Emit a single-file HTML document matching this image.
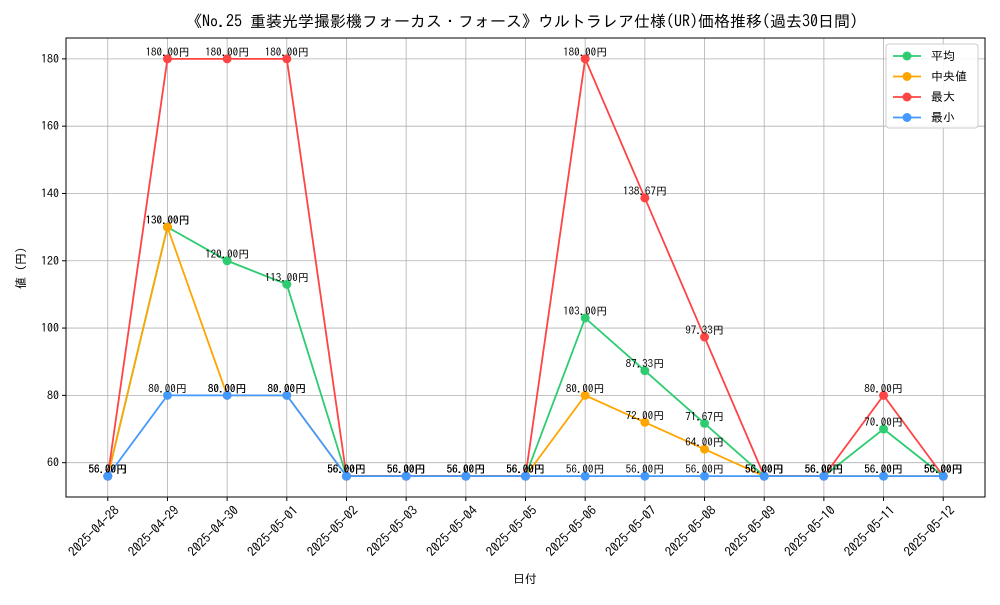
<!DOCTYPE html>
<html><head><meta charset="utf-8"><style>
body{margin:0;background:#fff;}
svg{font-family:"IPAGothic","Noto Sans CJK JP",sans-serif;}
</style></head><body>
<svg id="chart" width="1000" height="600" xmlns="http://www.w3.org/2000/svg">
<rect width="1000" height="600" fill="#fff"/>
<text x="522" y="27" font-size="16" text-anchor="middle">《No.25 重装光学撮影機フォーカス・フォース》ウルトラレア仕様(UR)価格推移(過去30日間)</text>
<g id="grid"></g>
<g id="axes"></g>
<g id="series"></g>
<g id="labels"></g>
<text x="525" y="583" font-size="12" text-anchor="middle">日付</text>
<text transform="translate(25,268) rotate(-90)" font-size="12" text-anchor="middle">値 (円)</text>
<g id="legend"></g>
</svg>
<script>
const dates=["2025-04-28","2025-04-29","2025-04-30","2025-05-01","2025-05-02","2025-05-03","2025-05-04","2025-05-05","2025-05-06","2025-05-07","2025-05-08","2025-05-09","2025-05-10","2025-05-11","2025-05-12"];
const avgValues=[56,130,120,113,56,56,56,56,103,87.33,71.67,56,56,70,56];
const medianValues=[56,130,80,80,56,56,56,56,80,72,64,56,56,56,56];
const maxValues=[56,180,180,180,56,56,56,56,180,138.67,97.33,56,56,80,56];
const minValues=[56,80,80,80,56,56,56,56,56,56,56,56,56,56,56];
const yTicks=[60,80,100,120,140,160,180];
const seriesNames=["平均","中央値","最大","最小"];

const NS="http://www.w3.org/2000/svg";
const L=66,R=985,T=38,B=497;
const yMin=49.8,yMax=186.2;
const xs=i=>L+(i+0.7)/(dates.length-1+1.4)*(R-L);
const ys=v=>B-(v-yMin)/(yMax-yMin)*(B-T);
function mk(tag,attrs,parent){const e=document.createElementNS(NS,tag);for(const k in attrs)e.setAttribute(k,attrs[k]);parent.appendChild(e);return e;}
const grid=document.getElementById('grid'),axes=document.getElementById('axes');
dates.forEach((d,i)=>{
  const x=xs(i);
  const g=mk('line',{x1:x,x2:x,y1:T,y2:B,stroke:'#b0b0b0','stroke-width':0.8},grid);
  
  
  mk('line',{x1:x,x2:x,y1:B,y2:B+4,stroke:'#000'},axes);
  const t=mk('text',{transform:`translate(${x+6},${B+8}) rotate(-45)`,'font-size':13,'text-anchor':'end','dominant-baseline':'hanging'},axes);
  t.textContent=d;
  
  
});
yTicks.forEach(v=>{
  const y=ys(v);
  const g=mk('line',{x1:L,x2:R,y1:y,y2:y,stroke:'#b0b0b0','stroke-width':0.8},grid);
  
  
  mk('line',{x1:L-4,x2:L,y1:y,y2:y,stroke:'#000'},axes);
  const t=mk('text',{x:L-7,y:y+4,'font-size':12,'text-anchor':'end'},axes);
  t.textContent=v;
  
  
});
const fr=mk('rect',{x:L,y:T,width:R-L,height:B-T,fill:'none',stroke:'#000','stroke-width':1},axes);



const all=[[avgValues,'#2ecc71','avg'],[medianValues,'#ffa500','median'],[maxValues,'#ff4444','max'],[minValues,'#4499ff','min']];
const sg=document.getElementById('series'),lg=document.getElementById('labels');
all.forEach(([vals,col,key])=>{
  const p=mk('polyline',{points:vals.map((v,i)=>xs(i)+','+ys(v)).join(' '),fill:'none',stroke:col,'stroke-width':1.8},sg);
  
  
  vals.forEach((v,i)=>{
    const c=mk('circle',{cx:xs(i),cy:ys(v),r:4.5,fill:col},sg);
    
    
    const t=mk('text',{x:xs(i),y:ys(v)-3,'font-size':11,'text-anchor':'middle'},lg);
    t.textContent=v.toFixed(2)+'円';
    
    
  });
});
const leg=document.getElementById('legend');
mk('rect',{x:886,y:44,width:92,height:84,rx:3,fill:'#fff','fill-opacity':0.85,stroke:'#ccc'},leg);
all.forEach(([v,col,key],i)=>{
  const y=56+i*20.5;
  mk('line',{x1:893,x2:921,y1:y,y2:y,stroke:col,'stroke-width':1.8},leg);
  const c=mk('circle',{cx:907,cy:y,r:4.5,fill:col},leg);
  
  
  const t=mk('text',{x:931,y:y+4,'font-size':12},leg);
  t.textContent=seriesNames[i];
  
  
});
</script>
</body></html>
